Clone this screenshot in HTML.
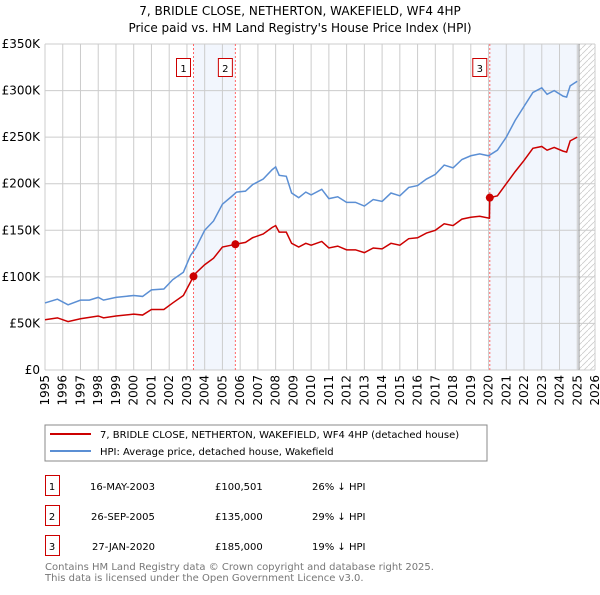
<!DOCTYPE html>
<html><head><meta charset="utf-8"><style>
body{margin:0;background:#fff;width:600px;height:590px;overflow:hidden}
svg text{font-family:"DejaVu Sans","Liberation Sans",sans-serif}
</style></head><body>
<svg id="c" width="600" height="590" xmlns="http://www.w3.org/2000/svg">
<text x="300" y="15" font-size="12" text-anchor="middle">7, BRIDLE CLOSE, NETHERTON, WAKEFIELD, WF4 4HP</text>
<text x="300" y="32" font-size="12" text-anchor="middle">Price paid vs. HM Land Registry's House Price Index (HPI)</text>
<g id="plot"></g>
<rect x="45" y="425" width="442" height="36" fill="#fff" stroke="#888"/>
<line x1="50" y1="434" x2="91" y2="434" stroke="#cc0000" stroke-width="2"/>
<text x="100" y="438" font-size="10">7, BRIDLE CLOSE, NETHERTON, WAKEFIELD, WF4 4HP (detached house)</text>
<line x1="50" y1="451" x2="91" y2="451" stroke="#5b8fd4" stroke-width="2"/>
<text x="100" y="455" font-size="10">HPI: Average price, detached house, Wakefield</text>
<g font-size="10">
<rect x="45.5" y="475.5" width="14" height="20" fill="none" stroke="#cc0000"/>
<text x="52" y="490" text-anchor="middle">1</text>
<text x="90" y="490">16-MAY-2003</text>
<text x="215" y="490">£100,501</text>
<text x="312" y="490">26% ↓ HPI</text>
<rect x="45.5" y="505.5" width="14" height="20" fill="none" stroke="#cc0000"/>
<text x="52" y="520" text-anchor="middle">2</text>
<text x="91" y="520">26-SEP-2005</text>
<text x="215" y="520">£135,000</text>
<text x="312" y="520">29% ↓ HPI</text>
<rect x="45.5" y="535.5" width="14" height="20" fill="none" stroke="#cc0000"/>
<text x="52" y="550" text-anchor="middle">3</text>
<text x="92" y="550">27-JAN-2020</text>
<text x="215" y="550">£185,000</text>
<text x="312" y="550">19% ↓ HPI</text>
</g>
<text x="45" y="570" font-size="10" fill="#777">Contains HM Land Registry data © Crown copyright and database right 2025.</text>
<text x="45" y="581" font-size="10" fill="#777">This data is licensed under the Open Government Licence v3.0.</text>
</svg>
<script>
const hpiYears=[1995,1995.7,1996.3,1997,1997.5,1998,1998.3,1999,2000,2000.5,2001,2001.7,2002.2,2002.8,2003.2,2003.5,2004,2004.5,2005,2005.5,2005.8,2006.3,2006.7,2007.3,2007.8,2008,2008.2,2008.6,2008.9,2009.3,2009.7,2010,2010.6,2011,2011.5,2012,2012.5,2013,2013.5,2014,2014.5,2015,2015.5,2016,2016.5,2017,2017.5,2018,2018.5,2019,2019.5,2020,2020.5,2021,2021.5,2022,2022.5,2023,2023.3,2023.7,2024.2,2024.4,2024.6,2025];
const hpiValues=[72,76,70,75,75,78,75,78,80,79,86,87,97,105,123,131,150,160,178,186,191,192,199,205,215,218,209,208,190,185,191,188,194,184,186,180,180,176,183,181,190,187,196,198,205,210,220,217,226,230,232,230,236,250,268,283,298,303,296,300,294,293,305,310];
const paidYears=[1995,1995.7,1996.3,1997,1998,1998.3,1999,2000,2000.5,2001,2001.7,2002.2,2002.8,2003.37,2003.5,2004,2004.5,2005,2005.5,2005.73,2006.3,2006.7,2007.3,2007.8,2008,2008.2,2008.6,2008.9,2009.3,2009.7,2010,2010.6,2011,2011.5,2012,2012.5,2013,2013.5,2014,2014.5,2015,2015.5,2016,2016.5,2017,2017.5,2018,2018.5,2019,2019.5,2020.05,2020.07,2020.5,2021,2021.5,2022,2022.5,2023,2023.3,2023.7,2024.2,2024.4,2024.6,2025];
const paidValues=[54,56,52,55,58,56,58,60,59,65,65,72,80,100.5,104,113,120,132,134,135,137,142,146,153,155,148,148,136,132,136,134,138,131,133,129,129,126,131,130,136,134,141,142,147,150,157,155,162,164,165,163,185,187,200,213,225,238,240,236,239,235,234,246,250];
const saleYears=[2003.37,2005.73,2020.07];
const salePrices=[100.5,135,185];
const saleLabels=["1","2","3"];
const yTicks=[0,50,100,150,200,250,300,350];
const yTickLabels=["£0","£50K","£100K","£150K","£200K","£250K","£300K","£350K"];
const xTicks=[1995,1996,1997,1998,1999,2000,2001,2002,2003,2004,2005,2006,2007,2008,2009,2010,2011,2012,2013,2014,2015,2016,2017,2018,2019,2020,2021,2022,2023,2024,2025,2026];

const NS="http://www.w3.org/2000/svg";
const X0=45,X1=595,Y0=370,Y1=44;
const sx=y=>X0+(y-1995)/(2026-1995)*(X1-X0);
const sy=v=>Y0-v/350*(Y0-Y1);
const g=document.getElementById('plot');
function mk(t,a){const e=document.createElementNS(NS,t);for(const k in a)e.setAttribute(k,a[k]);g.appendChild(e);return e;}
let e;
e=mk('rect',{x:sx(saleYears[0]),y:Y1,width:sx(saleYears[1])-sx(saleYears[0]),height:Y0-Y1,fill:'#f2f6fd'});


e=mk('rect',{x:sx(saleYears[2]),y:Y1,width:sx(2025.1)-sx(saleYears[2]),height:Y0-Y1,fill:'#f2f6fd'});


const defs=document.createElementNS(NS,'defs');
defs.innerHTML='<pattern id="h" width="6" height="6" patternUnits="userSpaceOnUse"><path d="M0,6 L6,0" stroke="#ccc" stroke-width="0.8"/></pattern>';
g.appendChild(defs);
e=mk('rect',{x:sx(2025.1),y:Y1,width:X1-sx(2025.1),height:Y0-Y1,fill:'url(#h)'});


xTicks.forEach((t,i)=>{
  e=mk('line',{x1:sx(t),x2:sx(t),y1:Y1,y2:Y0,stroke:'#ccc','stroke-width':1});
  
  
  const tx=sx(t)+4,ty=Y0+5;
  e=mk('text',{x:tx,y:ty,'font-size':12,'text-anchor':'end',transform:'rotate(-90 '+tx+' '+ty+')'});e.textContent=t;
  
  
});
yTicks.forEach((t,i)=>{
  e=mk('line',{x1:X0,x2:X1,y1:sy(t),y2:sy(t),stroke:'#ccc','stroke-width':1});
  
  
  e=mk('text',{x:40,y:sy(t)+4,'font-size':12,'text-anchor':'end'});e.textContent=yTickLabels[i];
  
  
});
e=mk('line',{x1:sx(2025.1),x2:sx(2025.1),y1:Y1,y2:Y0,stroke:'#999','stroke-width':1});


saleYears.forEach((y,i)=>{
  e=mk('line',{x1:sx(y),x2:sx(y),y1:Y1,y2:Y0,stroke:'#ff6666','stroke-width':1,'stroke-dasharray':'2,2'});
  
  
});
function line(xs,vs,col,name){
  e=mk('polyline',{points:xs.map((x,i)=>sx(x)+','+sy(vs[i])).join(' '),fill:'none',stroke:col,'stroke-width':1.5});
  
  
}
line(hpiYears,hpiValues,'#5b8fd4','hpi-line');
line(paidYears,paidValues,'#cc0000','price-paid-line');
saleYears.forEach((y,i)=>{
  e=mk('circle',{cx:sx(y),cy:sy(salePrices[i]),r:4,fill:'#cc0000'});
  
  
  e=mk('rect',{x:sx(y)-17,y:58.5,width:14,height:18,fill:'#fff',stroke:'#cc0000'});
  
  
  e=mk('text',{x:sx(y)-10,y:72,'font-size':10,'text-anchor':'middle'});e.textContent=saleLabels[i];
  
  
});
</script>
</body></html>
